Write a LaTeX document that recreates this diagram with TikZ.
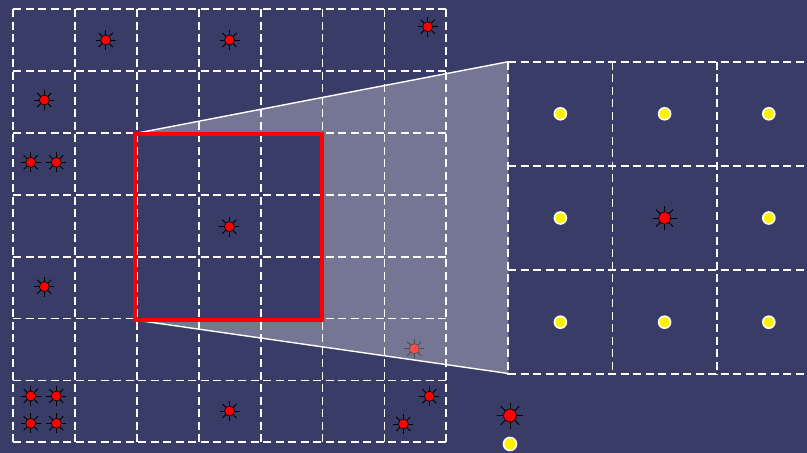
\documentclass[tikz,border=0pt]{standalone}
\definecolor{bgnavy}{RGB}{57,60,103}
\tikzset{
  gridline/.style={white, line width=1.8pt, dash pattern=on 8pt off 4.5pt},
  reddot/.style={circle, fill=red, draw=black, line width=0.6pt, inner sep=0pt, minimum size=#1},
  ray/.style={black, line width=0.9pt},
  ydot/.style={circle, fill=yellow, draw=white, line width=1.6pt, inner sep=0pt, minimum size=12pt},
  zoomedge/.style={white, line width=1.4pt},
  zoomfill/.style={fill=white, fill opacity=0.3, even odd rule},
  sqframe/.style={red, line width=4pt}
}
\newcommand\rstar[5]{% name, x, y, ray length, diameter
  \foreach \a in {0,45,...,315}{\draw[ray] (#2,#3) -- ++(\a:#4);}
  \node[reddot=#5] (#1) at (#2,#3) {};}
\begin{document}
\begin{tikzpicture}[x=1pt,y=-1pt]
\fill[bgnavy] (0,0) rectangle (807,453);
\useasboundingbox (0,0) rectangle (807,453);
% left grid
\foreach \i in {0,...,7}{
  \draw[gridline] ({13+61.9*\i},9) -- ({13+61.9*\i},442.5);
  \draw[gridline] (13,{9+61.9*\i}) -- (446.5,{9+61.9*\i});
}
% stars in left grid
\rstar{a1}{105.7}{40}{10}{10pt}
\rstar{a2}{229.5}{40}{10}{10pt}
\rstar{a3}{427.7}{26.7}{10}{10pt}
\rstar{b1}{44.3}{100}{10}{10pt}
\rstar{c1}{30.7}{162.3}{10}{10pt}
\rstar{c2}{56.3}{162.3}{10}{10pt}
\rstar{d1}{229.3}{226.7}{10}{10pt}
\rstar{e1}{44.3}{286.7}{10}{10pt}
\rstar{f1}{414.3}{348.7}{10}{10pt}
\rstar{g1}{30.7}{396}{10}{10pt}
\rstar{g2}{56.3}{396}{10}{10pt}
\rstar{g3}{30.7}{423.3}{10}{10pt}
\rstar{g4}{56.3}{423.3}{10}{10pt}
\rstar{g5}{229.5}{411}{10}{10pt}
\rstar{g6}{429.3}{396.3}{10}{10pt}
\rstar{g7}{403.3}{424}{10}{10pt}
% right grid
\foreach \i in {0,1,2}{
  \draw[gridline] ({508.3+104.2*\i},61.7) -- ({508.3+104.2*\i},374.3);
}
\foreach \j in {0,...,3}{
  \draw[gridline] (508.3,{61.7+104.2*\j}) -- (810,{61.7+104.2*\j});
}
\foreach \i in {0,1,2}{
  \foreach \j in {0,1,2}{
    \ifnum\i=1 \ifnum\j=1 \else
      \node[ydot] (y\i\j) at ({560.4+104.2*\i},{113.8+104.2*\j}) {};
    \fi \else
      \node[ydot] (y\i\j) at ({560.4+104.2*\i},{113.8+104.2*\j}) {};
    \fi
  }
}
\rstar{ctr}{664.6}{218}{12}{12pt}
% zoom region
\coordinate (sqTL) at (135,133.5);
\coordinate (sqBR) at (321.5,320);
\coordinate (sqBL) at (135,320);
\coordinate (rgTL) at (508.3,61.7);
\coordinate (rgBL) at (508.3,373.5);
\fill[zoomfill] (sqTL) -- (rgTL) -- (rgBL) -- (sqBL) -- cycle (sqTL) rectangle (sqBR);
\draw[zoomedge] (sqTL) -- (rgTL);
\draw[zoomedge] (sqBL) -- (rgBL);
\draw[sqframe] (sqTL) rectangle (sqBR);
% legend
\rstar{lg1}{510}{415.5}{13}{13pt}
\node[ydot, minimum size=13pt] (lg2) at (510,444) {};
\end{tikzpicture}
\end{document}
